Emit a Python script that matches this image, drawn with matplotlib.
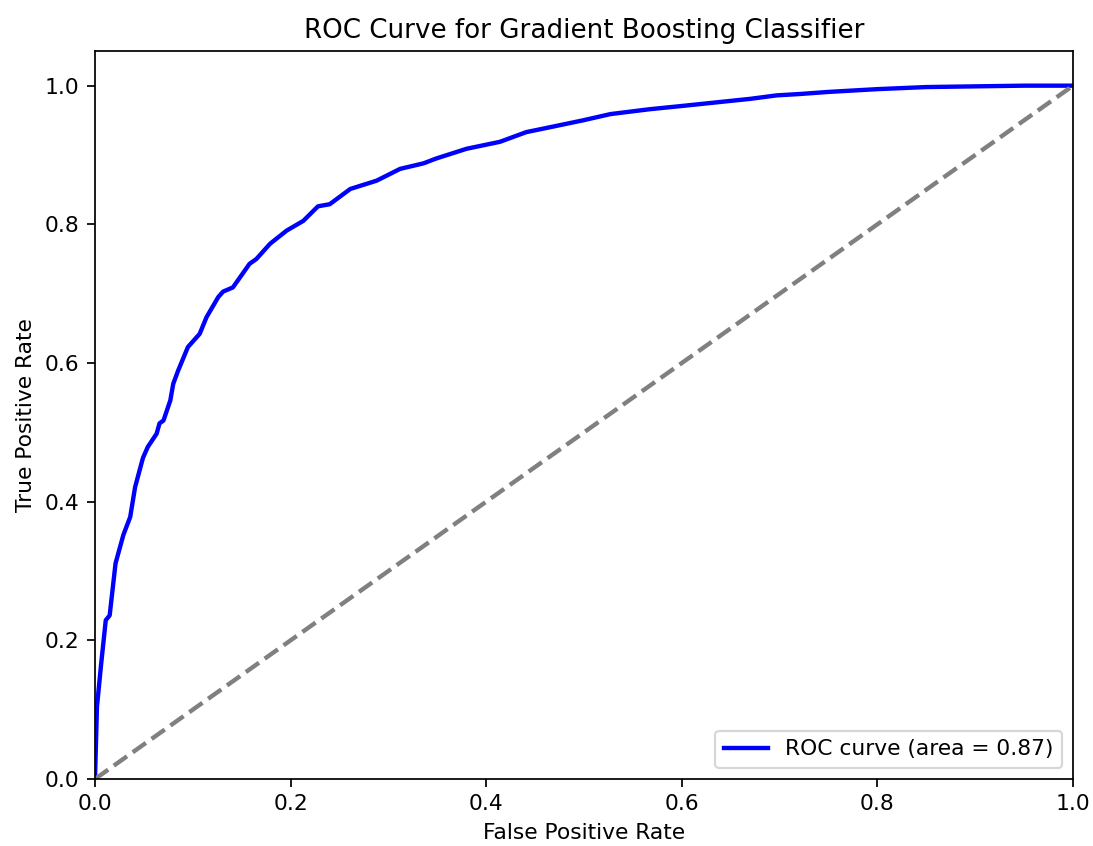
import matplotlib
matplotlib.use("Agg")
from matplotlib import pyplot as plt

# points
fpr = [0.0, 0.002, 0.006, 0.011, 0.015, 0.021, 0.029, 0.036, 0.041, 0.049,
       0.054, 0.063, 0.066, 0.070, 0.077, 0.080, 0.085, 0.095, 0.107, 0.114,
       0.126, 0.131, 0.141, 0.152, 0.158, 0.165, 0.179, 0.196, 0.213, 0.228,
       0.240, 0.261, 0.288, 0.312, 0.336, 0.349, 0.380, 0.414, 0.441, 0.465,
       0.499, 0.527, 0.567, 0.602, 0.636, 0.670, 0.697, 0.721, 0.750, 0.800,
       0.850, 0.900, 0.950, 1.0]
tpr = [0.0, 0.104, 0.162, 0.229, 0.236, 0.311, 0.352, 0.378, 0.421, 0.463,
       0.479, 0.498, 0.513, 0.517, 0.546, 0.570, 0.589, 0.623, 0.642, 0.666,
       0.695, 0.703, 0.709, 0.731, 0.743, 0.750, 0.772, 0.791, 0.805, 0.826,
       0.829, 0.851, 0.863, 0.880, 0.888, 0.895, 0.909, 0.919, 0.933, 0.940,
       0.950, 0.959, 0.966, 0.971, 0.976, 0.981, 0.986, 0.988, 0.991, 0.995,
       0.998, 0.999, 1.0, 1.0]
roc_auc = 0.87

dpi = 157
fig = plt.figure(figsize=(1093 / dpi, 846 / dpi), dpi=dpi)
ax = fig.add_axes([95 / 1093, 1 - 779 / 846, 978 / 1093, 728 / 846])

ax.plot(fpr, tpr, color="blue", lw=2, label="ROC curve (area = %0.2f)" % roc_auc)
ax.plot([0, 1], [0, 1], color="gray", lw=2, linestyle="--")
ax.set_xlim(0.0, 1.0)
ax.set_ylim(0.0, 1.05)
ax.set_xlabel("False Positive Rate")
ax.set_ylabel("True Positive Rate")
ax.set_title("ROC Curve for Gradient Boosting Classifier")
ax.legend(loc="lower right")

fig.savefig("out.png", dpi=dpi)
